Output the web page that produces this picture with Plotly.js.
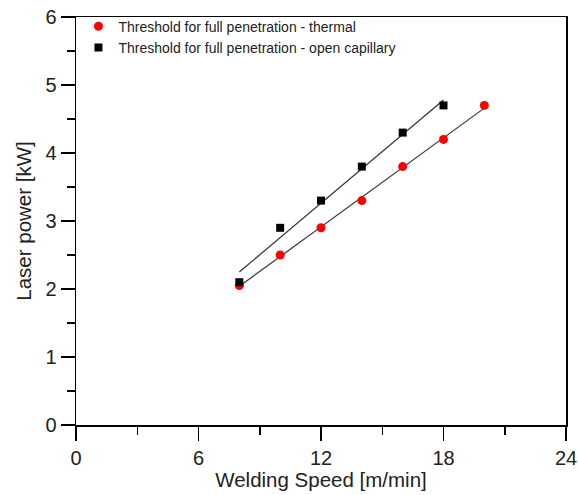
<!DOCTYPE html>
<html><head><meta charset="utf-8">
<script src="https://cdn.plot.ly/plotly-3.0.1.min.js"></script>
<style>html,body{margin:0;padding:0;background:#fff}#chart{width:578px;height:495px}</style>
</head><body><div id="chart"></div>
<script>
const thermalSpeed = [8, 10, 12, 14, 16, 18, 20];
const thermalPower = [2.05, 2.5, 2.9, 3.3, 3.8, 4.2, 4.7];
const capSpeed = [8, 10, 12, 14, 16, 18];
const capPower = [2.1, 2.9, 3.3, 3.8, 4.3, 4.7];
const thermalFitSpeed = [8, 20];
const thermalFitPower = [2.04, 4.66];
const capFitSpeed = [8, 18];
const capFitPower = [2.25, 4.78];
const seriesNames = ['Threshold for full penetration - thermal', 'Threshold for full penetration - open capillary'];
const xTicks = [0, 6, 12, 18, 24];
const yTicks = [0, 1, 2, 3, 4, 5, 6];

const font = 'Liberation Sans, Arial, sans-serif';
const traces = [
  {x: thermalFitSpeed, y: thermalFitPower, mode: 'lines', line: {color: '#333', width: 1.2}, showlegend: false, hoverinfo: 'skip'},
  {x: capFitSpeed, y: capFitPower, mode: 'lines', line: {color: '#333', width: 1.2}, showlegend: false, hoverinfo: 'skip'},
  {x: thermalSpeed, y: thermalPower, mode: 'markers', name: seriesNames[0], marker: {symbol: 'circle', color: '#ff0000', size: 9}},
  {x: capSpeed, y: capPower, mode: 'markers', name: seriesNames[1], marker: {symbol: 'square', color: '#000', size: 8}}
];
const axisCommon = {
  showgrid: false, zeroline: false, showline: true, linecolor: '#000', linewidth: 1.5, mirror: true,
  ticks: 'outside', ticklen: 14, tickwidth: 1.5, tickcolor: '#000',
  tickfont: {family: font, size: 20, color: '#222'},
  minor: {ticks: 'outside', ticklen: 8, tickwidth: 1.5, tickcolor: '#000'}
};
const layout = {
  width: 578, height: 495,
  margin: {l: 76, r: 12, t: 16, b: 70},
  paper_bgcolor: '#fff', plot_bgcolor: '#fff',
  font: {family: font, color: '#222'},
  xaxis: Object.assign({}, axisCommon, {range: [0, 24], tickvals: xTicks, minor: Object.assign({}, axisCommon.minor, {dtick: 3, tick0: 0}),
    title: {text: 'Welding Speed [m/min]', font: {family: font, size: 20.5, color: '#222'}, standoff: 1}}),
  yaxis: Object.assign({}, axisCommon, {range: [0, 6], tickvals: yTicks, minor: Object.assign({}, axisCommon.minor, {dtick: 0.5, tick0: 0}),
    title: {text: 'Laser power [kW]', font: {family: font, size: 20.5, color: '#222'}, standoff: 8}}),
  legend: {x: 0.005, y: 1.013, xanchor: 'left', yanchor: 'top', bgcolor: 'rgba(0,0,0,0)', font: {family: font, size: 14, color: '#222'}, tracegroupgap: 0, itemwidth: 30}
};
Plotly.newPlot('chart', traces, layout, {displayModeBar: false, staticPlot: true});
</script></body></html>
